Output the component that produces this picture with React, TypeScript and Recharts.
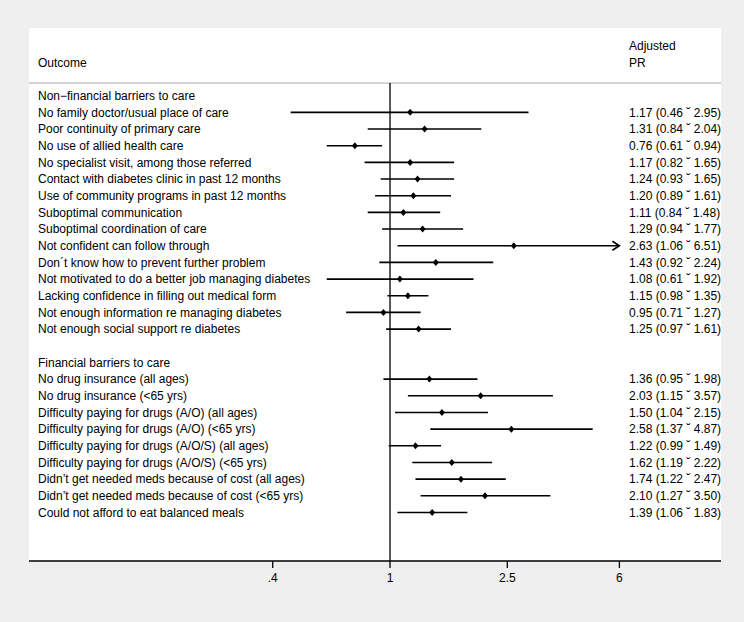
import { ComposedChart, Scatter, XAxis, YAxis, ReferenceLine, CartesianGrid } from 'recharts';

// rows, top to bottom (headers and the blank spacer have no estimate)
const outcomes = [
  'Non−financial barriers to care',
  'No family doctor/usual place of care',
  'Poor continuity of primary care',
  'No use of allied health care',
  'No specialist visit, among those referred',
  'Contact with diabetes clinic in past 12 months',
  'Use of community programs in past 12 months',
  'Suboptimal communication',
  'Suboptimal coordination of care',
  'Not confident can follow through',
  'Don´t know how to prevent further problem',
  'Not motivated to do a better job managing diabetes',
  'Lacking confidence in filling out medical form',
  'Not enough information re managing diabetes',
  'Not enough social support re diabetes',
  '',
  'Financial barriers to care',
  'No drug insurance (all ages)',
  'No drug insurance (<65 yrs)',
  'Difficulty paying for drugs (A/O) (all ages)',
  'Difficulty paying for drugs (A/O) (<65 yrs)',
  'Difficulty paying for drugs (A/O/S) (all ages)',
  'Difficulty paying for drugs (A/O/S) (<65 yrs)',
  'Didn’t get needed meds because of cost (all ages)',
  'Didn’t get needed meds because of cost (<65 yrs)',
  'Could not afford to eat balanced meals',
];

const prValues = [
  null, 1.17, 1.31, 0.76, 1.17, 1.24, 1.2, 1.11, 1.29, 2.63, 1.43, 1.08, 1.15, 0.95, 1.25,
  null, null, 1.36, 2.03, 1.5, 2.58, 1.22, 1.62, 1.74, 2.1, 1.39,
];
const ciLow = [
  null, 0.46, 0.84, 0.61, 0.82, 0.93, 0.89, 0.84, 0.94, 1.06, 0.92, 0.61, 0.98, 0.71, 0.97,
  null, null, 0.95, 1.15, 1.04, 1.37, 0.99, 1.19, 1.22, 1.27, 1.06,
];
const ciHigh = [
  null, 2.95, 2.04, 0.94, 1.65, 1.65, 1.61, 1.48, 1.77, 6.51, 2.24, 1.92, 1.35, 1.27, 1.61,
  null, null, 1.98, 3.57, 2.15, 4.87, 1.49, 2.22, 2.47, 3.5, 1.83,
];

const xTicks = [0.4, 1, 2.5, 6];
const xTickLabels = ['.4', '1', '2.5', '6'];

const X_DOMAIN = [0.0596, 13.27];
const Y_DOMAIN = [-4.06, 27.91];
const HEADER_LINE = -0.76;
const CI_MAX = 6;
const FONT = '"Liberation Sans", Arial, Helvetica, sans-serif';

const rows = outcomes.map((label, i) => ({ i, label, pr: prValues[i], lo: ciLow[i], hi: ciHigh[i] }));
const points = rows.filter(r => r.pr != null).map(r => ({ x: r.pr, y: r.i }));

const leftText: Record<number, string> = { [-2]: 'Outcome' };
rows.forEach(r => { if (r.label) leftText[r.i] = r.label; });

const rightText: Record<number, string> = { [-3]: 'Adjusted', [-2]: 'PR' };
rows.forEach(r => {
  if (r.pr != null) rightText[r.i] = `${r.pr.toFixed(2)} (${r.lo!.toFixed(2)} ˘ ${r.hi!.toFixed(2)})`;
});

const leftTicks = Object.keys(leftText).map(Number).sort((a, b) => a - b);
const rightTicks = Object.keys(rightText).map(Number).sort((a, b) => a - b);

const renderLeftTick = (props: any) => (
  <text key={props.index} x={38} y={props.y} dy="0.35em" fontSize={12} fontFamily={FONT} fill="#000" textAnchor="start">
    {leftText[props.payload.value]}
  </text>
);

const renderRightTick = (props: any) => (
  <text key={props.index} x={629} y={props.y} dy="0.35em" fontSize={12} fontFamily={FONT} fill="#000" textAnchor="start">
    {rightText[props.payload.value]}
  </text>
);

const renderXTick = (props: any) => (
  <text key={props.index} x={props.x} y={props.y} dy="0.9em" fontSize={12} fontFamily={FONT} fill="#000" textAnchor="middle">
    {xTickLabels[xTicks.indexOf(props.payload.value)]}
  </text>
);

const Diamond = (props: any) => {
  const { cx, cy } = props;
  return <polygon points={`${cx},${cy - 3.5} ${cx + 3},${cy} ${cx},${cy + 3.5} ${cx - 3},${cy}`} fill="#000" />;
};

const ArrowLine = (props: any) => {
  const { x1, y1, x2, y2 } = props;
  return (
    <g>
      <line x1={x1} y1={y1} x2={x2} y2={y2} stroke="#000" strokeWidth={1.6} />
      <polyline points={`${x2 - 7},${y2 - 4.5} ${x2},${y2} ${x2 - 7},${y2 + 4.5}`} fill="none" stroke="#000" strokeWidth={1.6} />
    </g>
  );
};

export default function App() {
  return (
    <div style={{ position: 'absolute', left: 0, top: 0, width: 744, height: 622, background: '#efefef' }}>
      <ComposedChart width={744} height={622} margin={{ top: 28, right: 22, left: 28, bottom: 31 }}>
        <CartesianGrid fill="#ffffff" stroke="none" horizontal={false} vertical={false} />
        <XAxis
          type="number"
          dataKey="x"
          scale="log"
          domain={X_DOMAIN}
          allowDataOverflow
          ticks={xTicks}
          interval={0}
          height={30}
          tickSize={7}
          tickMargin={3}
          stroke="#000"
          strokeWidth={1.3}
          tick={renderXTick}
        />
        <YAxis
          yAxisId="left"
          type="number"
          dataKey="y"
          domain={Y_DOMAIN}
          allowDataOverflow
          reversed
          width={1}
          ticks={leftTicks}
          interval={0}
          axisLine={false}
          tickLine={false}
          tick={renderLeftTick}
        />
        <YAxis
          yAxisId="right"
          orientation="right"
          type="number"
          domain={Y_DOMAIN}
          allowDataOverflow
          reversed
          width={1}
          ticks={rightTicks}
          interval={0}
          axisLine={false}
          tickLine={false}
          tick={renderRightTick}
        />

        {/* header separator and null line */}
        <ReferenceLine yAxisId="left" y={HEADER_LINE} stroke="#d4d4d4" strokeWidth={2} />
        <ReferenceLine
          yAxisId="left"
          segment={[{ x: 1, y: HEADER_LINE }, { x: 1, y: Y_DOMAIN[1] }]}
          stroke="#000"
          strokeWidth={1.3}
        />

        {/* confidence intervals */}
        {rows.filter(r => r.pr != null).map(r =>
          r.hi! > CI_MAX ? (
            <ReferenceLine
              key={r.i}
              yAxisId="left"
              segment={[{ x: r.lo, y: r.i }, { x: CI_MAX, y: r.i }]}
              shape={<ArrowLine />}
            />
          ) : (
            <ReferenceLine
              key={r.i}
              yAxisId="left"
              segment={[{ x: r.lo, y: r.i }, { x: r.hi, y: r.i }]}
              stroke="#000"
              strokeWidth={1.6}
            />
          )
        )}

        <Scatter yAxisId="left" data={points} shape={<Diamond />} isAnimationActive={false} />
      </ComposedChart>
    </div>
  );
}
